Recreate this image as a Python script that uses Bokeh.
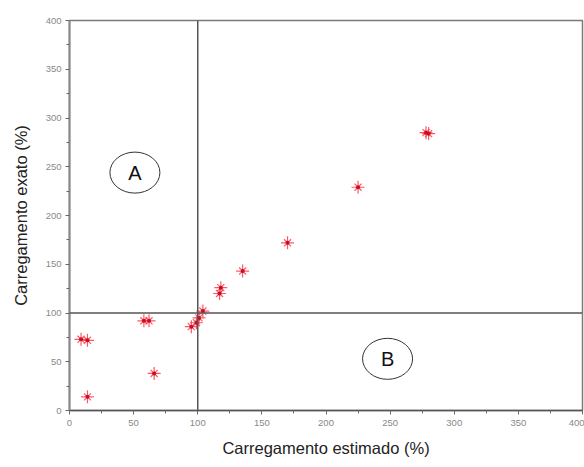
from bokeh.plotting import figure
from bokeh.models import Range1d, Span, FixedTicker
from bokeh.embed import file_html
from bokeh.resources import INLINE

# data
est = [9, 14, 14, 58, 62, 66, 95, 99, 101, 104, 117, 118, 135, 170, 225, 278, 280]
exato = [73, 72, 14, 92, 92, 38, 86, 90, 95, 102, 120, 126, 143, 172, 229, 285, 284]
ticks = [0, 50, 100, 150, 200, 250, 300, 350, 400]
minor = [25, 75, 125, 175, 225, 275, 325, 375]
region_names = ["A", "B"]
region_x = [51, 248]
region_y = [244, 53]

FONT = "Liberation Sans"

p = figure(width=584, height=466, output_backend="svg", toolbar_location=None,
           x_range=Range1d(0, 400), y_range=Range1d(0, 400),
           min_border_left=69, min_border_top=20, min_border_right=2, min_border_bottom=56)
p.grid.visible = False
p.background_fill_color = "white"
p.outline_line_color = "#7a7a7a"
p.outline_line_width = 1.5

for ax, lbl in ((p.xaxis[0], "Carregamento estimado (%)"), (p.yaxis[0], "Carregamento exato (%)")):
    ax.ticker = FixedTicker(ticks=ticks, minor_ticks=minor)
    ax.axis_label = lbl
    ax.axis_label_text_font = FONT
    ax.axis_label_text_font_size = "16.5px"
    ax.axis_label_text_font_style = "normal"
    ax.axis_label_text_color = "#222222"
    ax.major_label_text_font = FONT
    ax.major_label_text_font_size = "9.5px"
    ax.major_label_text_color = "#888888"
    ax.major_tick_out = 4
    ax.major_tick_in = 0
    ax.minor_tick_out = 3
    ax.minor_tick_in = 0
    ax.major_tick_line_color = "#666666"
    ax.minor_tick_line_color = "#666666"
    ax.major_label_standoff = 4

p.xaxis.axis_line_color = "#555555"
p.xaxis.axis_line_width = 1.5
p.yaxis.axis_line_color = "#8a8a8a"
p.yaxis.axis_line_width = 2
p.xaxis.major_label_standoff = 5
p.xaxis.axis_label_standoff = 10
p.yaxis.axis_label_standoff = 13

p.add_layout(Span(location=100, dimension="height", line_color="#555555", line_width=1.5))
p.add_layout(Span(location=100, dimension="width", line_color="#555555", line_width=1.5))

# red asterisk markers
p.scatter(est, exato, marker="cross", size=13, line_color="#ff3040", line_width=1.2, line_alpha=0.8)
p.scatter(est, exato, marker="x", size=10, line_color="#ff3040", line_width=1.2, line_alpha=0.8)
p.scatter(est, exato, marker="circle", size=4, fill_color="#c0102a", line_color=None)

# region labels with ellipses
p.ellipse(region_x, region_y, width=50, height=41, width_units="screen", height_units="screen",
          fill_color=None, line_color="#333333", line_width=1)
p.text(region_x, region_y, text=region_names, text_align="center", text_baseline="middle",
       text_font_size="20px", text_color="#111111", text_font={"value": FONT})

open("out.html", "w").write(file_html(p, INLINE))
